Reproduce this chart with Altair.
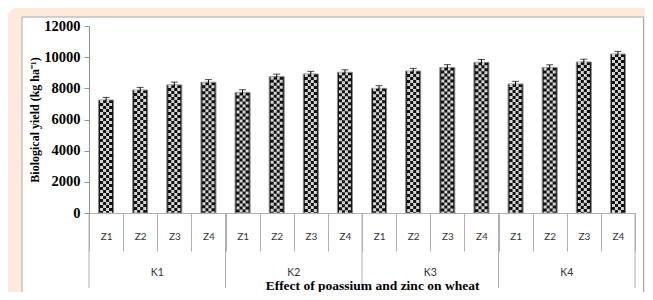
import altair as alt
import pandas as pd

potassium = ["K1", "K2", "K3", "K4"]
zinc = ["Z1", "Z2", "Z3", "Z4"]
yield_k1 = [7250, 7890, 8220, 8390]
yield_k2 = [7740, 8750, 8920, 9030]
yield_k3 = [8000, 9110, 9340, 9670]
yield_k4 = [8280, 9340, 9690, 10200]
err_k1 = [170, 170, 180, 170]
err_k2 = [170, 160, 170, 160]
err_k3 = [170, 170, 180, 180]
err_k4 = [170, 170, 180, 170]

y_ticks = [0, 2000, 4000, 6000, 8000, 10000, 12000]

rows = []
for k, ys, es in zip(potassium, [yield_k1, yield_k2, yield_k3, yield_k4],
                     [err_k1, err_k2, err_k3, err_k4]):
    for z, v, e in zip(zinc, ys, es):
        rows.append({"cat": f"{k}|{z}", "K": k, "Z": z, "val": v,
                     "lo": v - e, "hi": v + e})
df = pd.DataFrame(rows)
cats = list(df["cat"])

W, H = 546, 187
SERIF = "Liberation Serif"

x_axis = alt.Axis(
    zindex=1,
    labelExpr="split(datum.label, '|')[1]",
    tickBand="extent", tickSize=38, tickColor="#b0b0b0", domainColor="#b0b0b0",
    labelPadding=-14.5, labelBaseline="middle", labelAngle=0, labelOverlap=False,
    labelFont="Lato", labelFontSize=10, labelColor="#333",
    title="Effect of poassium and zinc on wheat",
    titleFont=SERIF, titleFontWeight="bold", titleFontSize=13.5, titleColor="black",
    titleX=283, titleY=76.5, titleBaseline="alphabetic", titleAlign="center",
)
y_axis = alt.Axis(
    zindex=1,
    values=y_ticks, format="d", grid=False, labelOverlap=False,
    domainColor="#909090", tickColor="#909090", tickSize=5,
    labelFont=SERIF, labelFontWeight="bold", labelFontSize=14.5, labelColor="black",
    labelPadding=4,
    title="Biological yield (kg ha⁻¹)",
    titleFont=SERIF, titleFontWeight="bold", titleFontSize=12, titleColor="black",
    titleX=-55, titleY=H / 2, titleAngle=270, titleAlign="center", titleBaseline="middle",
)

xscale = alt.Scale(paddingInner=0, paddingOuter=0)
yscale = alt.Scale(domain=[0, 12000], nice=False)


def xenc(band=None):
    kw = dict(sort=cats, scale=xscale, axis=x_axis)
    if band is not None:
        kw["bandPosition"] = band
    return alt.X("cat:N", **kw)


def yenc(field):
    return alt.Y(field, type="quantitative", scale=yscale, axis=y_axis)


one = alt.Data(values=[{"a": 1}])

peach = alt.Chart(one).mark_rect(fill="#fdeadd", cornerRadiusTopLeft=16).encode(
    x=alt.value(-84), x2=alt.value(570), y=alt.value(-19), y2=alt.value(300))
panel = alt.Chart(one).mark_rect(fill="white", stroke="#a8a8a8", strokeWidth=1).encode(
    x=alt.value(-67), x2=alt.value(554.5), y=alt.value(-9), y2=alt.value(300))

base = alt.Chart(df)

bars = base.mark_bar(size=15, fill="#111", stroke="#8a8a8a", strokeWidth=1).encode(
    x=xenc(), y=yenc("val"))

pattern_layers = []
for off, dash_off in [(-4.5, 0), (-1.5, 3), (1.5, 0), (4.5, 3)]:
    pattern_layers.append(
        base.mark_rule(xOffset=off, strokeWidth=3, strokeDash=[3, 3],
                       strokeDashOffset=dash_off, color="#d4d4d4").encode(
            x=xenc(), y=yenc("val"), y2=alt.datum(0))
    )

err_line = base.mark_rule(color="black", strokeWidth=1).encode(
    x=xenc(), y=yenc("lo"), y2="hi:Q")
err_cap = base.mark_tick(color="black", thickness=1, size=7).encode(
    x=xenc(), y=yenc("hi"))

sep = alt.Chart(df[df["Z"] == "Z1"]).mark_rule(color="#b0b0b0").encode(
    x=xenc(band=0), y=alt.value(H), y2=alt.value(H + 75))
sep_end = alt.Chart(df[df["cat"] == cats[-1]]).mark_rule(color="#b0b0b0").encode(
    x=xenc(band=1), y=alt.value(H), y2=alt.value(H + 75))

k_labels = alt.Chart(df[df["Z"] == "Z3"]).mark_text(
    font="Lato", fontSize=10.5, fill="#333", baseline="middle").encode(
    x=xenc(band=0), y=alt.value(247), text="K:N")

chart = alt.layer(
    peach, panel, bars, *pattern_layers, err_line, err_cap, sep, sep_end, k_labels
).properties(
    width=W, height=H, autosize="none",
    padding={"left": 81, "top": 18, "right": 10, "bottom": 79},
).configure_view(stroke=None).configure(background="white")

chart.save("out.html", embed_options={"renderer": "svg", "actions": False})
